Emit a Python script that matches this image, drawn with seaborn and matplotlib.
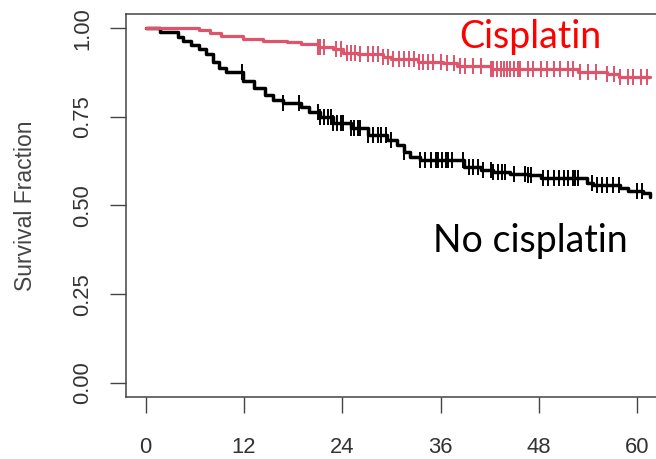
import numpy as np
import pandas as pd
import seaborn as sns
import matplotlib.pyplot as plt

# Kaplan-Meier step values (months, survival fraction)
black_time = [0, 1.8, 4.0, 4.6, 5.5, 6.5, 7.3, 8.2, 8.9, 9.8, 11.9, 13.2, 14.6, 15.5,
              16.8, 18.9, 19.9, 21.3, 22.9, 25.0, 27.1, 29.5, 30.7, 31.5, 32.3, 33.5,
              38.8, 40.9, 42.4, 44.5, 46.6, 48.2, 53.9, 54.6, 57.9, 58.8, 60.7, 61.6]
black_surv = [1.000, 0.990, 0.976, 0.964, 0.952, 0.940, 0.926, 0.906, 0.889, 0.877,
              0.851, 0.832, 0.812, 0.798, 0.790, 0.778, 0.764, 0.750, 0.733, 0.719,
              0.699, 0.685, 0.671, 0.651, 0.637, 0.628, 0.609, 0.600, 0.594, 0.590,
              0.585, 0.578, 0.563, 0.558, 0.549, 0.541, 0.535, 0.524]
black_censor = [11.8, 16.8, 18.7, 21.0, 21.3, 21.7, 22.2, 22.6, 22.9, 23.4, 23.8, 24.1,
                25.0, 25.4, 25.9, 26.2, 27.1, 27.7, 28.3, 28.7, 29.3, 29.9, 31.5, 33.5,
                34.1, 34.8, 35.4, 35.7, 36.2, 36.6, 36.9, 37.4, 38.7, 39.4, 40.0, 40.6,
                41.2, 42.1, 42.4, 43.0, 43.5, 43.9, 44.9, 46.3, 46.7, 47.0, 48.5, 49.1,
                49.8, 50.4, 51.0, 51.5, 52.1, 52.4, 52.8, 54.5, 55.1, 55.7, 56.3, 57.0,
                57.7, 60.0, 60.6]

red_time = [0, 6.5, 7.9, 9.2, 11.9, 14.3, 17.2, 18.9, 21.0, 22.9, 24.1, 25.9, 29.0,
            29.9, 33.2, 36.3, 38.0, 42.1, 52.8, 56.3, 57.7, 61.6]
red_surv = [1.000, 0.994, 0.986, 0.978, 0.970, 0.964, 0.960, 0.955, 0.948, 0.942,
            0.931, 0.926, 0.920, 0.914, 0.906, 0.902, 0.894, 0.886, 0.876, 0.871,
            0.863, 0.863]
red_censor = [21.0, 21.3, 21.7, 23.2, 23.8, 24.6, 25.0, 25.6, 26.2, 27.1, 27.7, 28.4,
              29.0, 29.6, 30.2, 30.9, 31.5, 32.1, 32.7, 33.3, 33.9, 34.5, 35.1, 36.0,
              36.8, 37.6, 38.4, 39.0, 39.9, 40.9, 42.1, 42.4, 42.9, 43.3, 43.7, 44.1,
              44.5, 44.9, 45.4, 45.7, 46.6, 47.3, 48.2, 49.0, 49.8, 50.6, 51.5, 52.2,
              53.0, 54.0, 54.9, 56.3, 57.1, 57.9, 58.8, 59.5, 60.4, 61.2]

x_ticks = [0, 12, 24, 36, 48, 60]
y_ticks = [0.00, 0.25, 0.50, 0.75, 1.00]
y_tick_labels = ["0.00", "0.25", "0.50", "0.75", "1.00"]


def surv_at(times, surv, t):
    # survival value of the step curve at time t
    idx = np.searchsorted(times, t, side='right') - 1
    return np.asarray(surv)[idx]


sns.set_style("white")
plt.rcParams['font.family'] = ['Liberation Sans', 'DejaVu Sans']

fig = plt.figure(figsize=(6.56, 4.59), dpi=100)
ax = fig.add_axes([0.1921, 0.1351, 0.8095, 0.8344])

curves = [
    (black_time, black_surv, black_censor, '#000000', 2.5),
    (red_time, red_surv, red_censor, '#DF536B', 2.3),
]
for times, surv, censor, col, lw in curves:
    df = pd.DataFrame({'time': times, 'surv': surv})
    sns.lineplot(data=df, x='time', y='surv', drawstyle='steps-post', estimator=None,
                 sort=False, color=col, linewidth=lw, ax=ax)
    cdf = pd.DataFrame({'time': censor, 'surv': surv_at(times, surv, censor)})
    sns.scatterplot(data=cdf, x='time', y='surv', marker='|', s=130, linewidth=1.4,
                    color=col, ax=ax, zorder=3)

ax.set_xlim(-2.4, 62.4)
ax.set_ylim(-0.04, 1.04)
ax.set_xticks(x_ticks)
ax.set_yticks(y_ticks)
ax.set_yticklabels(y_tick_labels, rotation=90, va='center')
ax.tick_params(axis='both', direction='out', length=11.5, width=1, color='#444444',
               labelsize=15.8, labelcolor='#333333', bottom=True, left=True)
ax.tick_params(axis='x', pad=17)
ax.tick_params(axis='y', pad=12)
for sp in ax.spines.values():
    sp.set_color('#444444')
    sp.set_linewidth(1.1)

ax.set_xlabel('')
ax.set_ylabel('Survival Fraction', fontsize=16.5, color='#444444')
ax.yaxis.set_label_coords(-0.168, 0.5)

ax.text(47.0, 0.943, 'Cisplatin', color='#FF0000', fontsize=27, family='Lato',
        ha='center', va='baseline')
ax.text(47.0, 0.368, 'No cisplatin', color='#000000', fontsize=27, family='Lato',
        ha='center', va='baseline')

fig.savefig('out.png', dpi=100)
